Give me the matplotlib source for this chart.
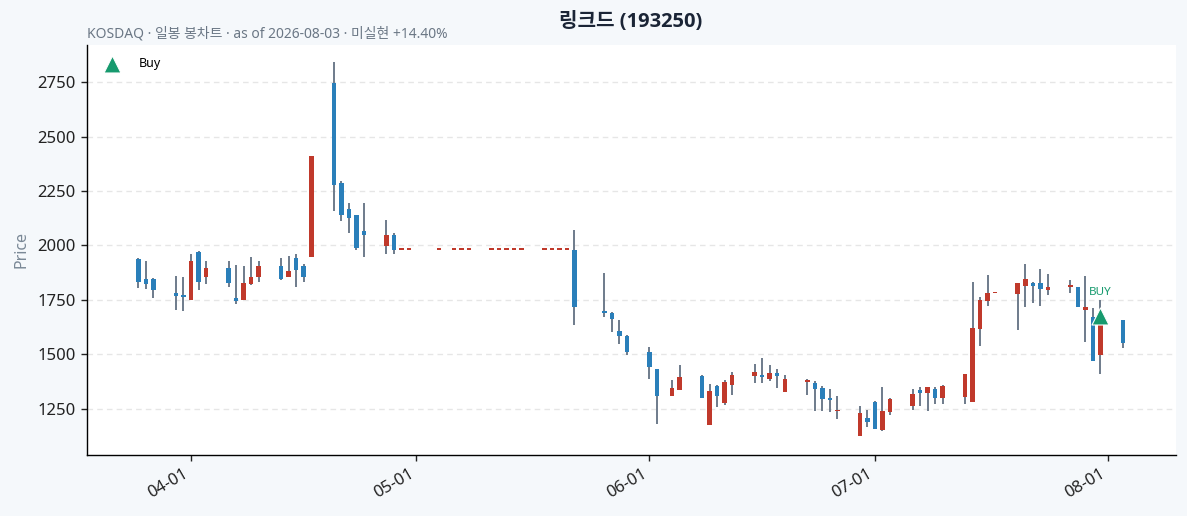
import matplotlib
matplotlib.use('Agg')
import matplotlib.pyplot as plt
import matplotlib.dates as mdates
import numpy as np
import pandas as pd

plt.rcParams['font.family'] = ['Noto Sans', 'Noto Sans CJK KR', 'DejaVu Sans']

# 일봉 데이터 (거래일 기준)
dates = [
    '2026-03-25', '2026-03-26', '2026-03-27', '2026-03-30', '2026-03-31',
    '2026-04-01', '2026-04-02', '2026-04-03', '2026-04-06', '2026-04-07',
    '2026-04-08', '2026-04-09', '2026-04-10', '2026-04-13', '2026-04-14',
    '2026-04-15', '2026-04-16', '2026-04-17', '2026-04-20', '2026-04-21',
    '2026-04-22', '2026-04-23', '2026-04-24', '2026-04-27', '2026-04-28',
    '2026-04-29', '2026-04-30', '2026-05-04', '2026-05-06', '2026-05-07',
    '2026-05-08', '2026-05-11', '2026-05-12', '2026-05-13', '2026-05-14',
    '2026-05-15', '2026-05-18', '2026-05-19', '2026-05-20', '2026-05-21',
    '2026-05-22', '2026-05-26', '2026-05-27', '2026-05-28', '2026-05-29',
    '2026-06-01', '2026-06-02', '2026-06-04', '2026-06-05', '2026-06-08',
    '2026-06-09', '2026-06-10', '2026-06-11', '2026-06-12', '2026-06-15',
    '2026-06-16', '2026-06-17', '2026-06-18', '2026-06-19', '2026-06-22',
    '2026-06-23', '2026-06-24', '2026-06-25', '2026-06-26', '2026-06-29',
    '2026-06-30', '2026-07-01', '2026-07-02', '2026-07-03', '2026-07-06',
    '2026-07-07', '2026-07-08', '2026-07-09', '2026-07-10', '2026-07-13',
    '2026-07-14', '2026-07-15', '2026-07-16', '2026-07-17', '2026-07-20',
    '2026-07-21', '2026-07-22', '2026-07-23', '2026-07-24', '2026-07-27',
    '2026-07-28', '2026-07-29', '2026-07-30', '2026-07-31', '2026-08-03',
]
opens = [
    1938, 1846, 1846, 1779, 1770, 1748, 1968, 1853, 1897, 1756,
    1748, 1823, 1855, 1906, 1853, 1940, 1906, 1946, 2745, 2287,
    2167, 2138, 2068, 1997, 2050, 1980, 1980, 1980, 1980, 1980,
    1980, 1980, 1980, 1980, 1980, 1980, 1980, 1980, 1980, 1980,
    1980, 1700, 1690, 1608, 1582, 1511, 1433, 1308, 1335, 1398,
    1175, 1352, 1276, 1358, 1400, 1403, 1384, 1412, 1326, 1374,
    1366, 1344, 1297, 1238, 1122, 1205, 1279, 1152, 1236, 1262,
    1334, 1323, 1339, 1299, 1303, 1281, 1615, 1744, 1779, 1778,
    1812, 1829, 1826, 1797, 1810, 1811, 1704, 1673, 1496, 1655,
]
highs = [
    1943, 1929, 1851, 1861, 1855, 1962, 1972, 1929, 1930, 1911,
    1906, 1946, 1930, 1940, 1949, 1962, 1915, 2412, 2842, 2296,
    2195, 2138, 2195, 2117, 2058, 1980, 1980, 1980, 1980, 1980,
    1980, 1980, 1980, 1980, 1980, 1980, 1980, 1980, 1980, 1980,
    2071, 1874, 1695, 1656, 1589, 1534, 1433, 1383, 1452, 1403,
    1365, 1357, 1383, 1416, 1453, 1484, 1449, 1433, 1406, 1388,
    1378, 1353, 1342, 1306, 1264, 1242, 1283, 1351, 1297, 1342,
    1351, 1351, 1351, 1357, 1407, 1833, 1765, 1866, 1779, 1825,
    1915, 1833, 1890, 1867, 1842, 1811, 1860, 1713, 1748, 1655,
]
lows = [
    1805, 1800, 1759, 1702, 1698, 1748, 1794, 1822, 1809, 1732,
    1748, 1819, 1831, 1840, 1853, 1809, 1831, 1946, 2158, 2114,
    2057, 1978, 1946, 1962, 1962, 1980, 1980, 1980, 1980, 1980,
    1980, 1980, 1980, 1980, 1980, 1980, 1980, 1980, 1980, 1980,
    1635, 1672, 1603, 1548, 1498, 1388, 1181, 1308, 1335, 1299,
    1175, 1255, 1268, 1314, 1369, 1369, 1377, 1346, 1326, 1311,
    1238, 1238, 1233, 1201, 1122, 1167, 1158, 1149, 1220, 1242,
    1262, 1237, 1271, 1273, 1269, 1281, 1539, 1721, 1779, 1609,
    1718, 1736, 1720, 1774, 1779, 1718, 1554, 1470, 1410, 1530,
]
closes = [
    1831, 1823, 1794, 1767, 1762, 1930, 1831, 1897, 1825, 1744,
    1826, 1857, 1906, 1846, 1883, 1886, 1855, 2412, 2277, 2138,
    2124, 1990, 2046, 2050, 1980, 1980, 1980, 1980, 1980, 1980,
    1980, 1980, 1980, 1980, 1980, 1980, 1980, 1980, 1980, 1980,
    1716, 1690, 1663, 1583, 1510, 1443, 1308, 1346, 1397, 1299,
    1329, 1310, 1371, 1403, 1416, 1395, 1412, 1400, 1384, 1374,
    1340, 1294, 1291, 1238, 1228, 1190, 1158, 1238, 1293, 1319,
    1322, 1348, 1299, 1354, 1407, 1619, 1747, 1781, 1779, 1825,
    1846, 1812, 1800, 1810, 1810, 1718, 1718, 1470, 1643, 1553,
]
buy_dates = ['2026-07-31']

UP = '#c0392b'
DOWN = '#2a7fba'
WICK = '#6e7b8b'
BUY = '#179a6e'

df = pd.DataFrame({'open': opens, 'high': highs, 'low': lows, 'close': closes},
                  index=pd.to_datetime(dates))
x = mdates.date2num(df.index.to_pydatetime())
up = df['close'] >= df['open']
colors = np.where(up, UP, DOWN)
body_bottom = np.minimum(df['open'], df['close'])
body_h = np.maximum((df['close'] - df['open']).abs(), 6)

fig = plt.figure(figsize=(11.87, 5.16), dpi=100, facecolor='#f5f8fb')
ax = fig.add_axes([0.0729, 0.1188, 0.9178, 0.794])
ax.set_facecolor('white')

ax.vlines(x, df['low'], df['high'], color=WICK, linewidth=1.4, zorder=2)
ax.bar(x, body_h, bottom=body_bottom, width=0.6, color=colors, linewidth=0, zorder=3)

# 매수 신호
bx = mdates.date2num(pd.to_datetime(buy_dates).to_pydatetime())
by = df.loc[pd.to_datetime(buy_dates), 'close'].values * 1.02
ax.scatter(bx, by, marker='^', s=150, color=BUY, edgecolor='white', linewidth=0.8,
           zorder=5, label='Buy')
for xx, yy in zip(bx, by):
    ax.annotate('BUY', (xx, yy), xytext=(0, 13), textcoords='offset points',
                ha='center', va='bottom', fontsize=8.4, color=BUY)

ax.set_xlim(x[0] - 6.9, x[-1] + 7.05)
ax.set_ylim(1038, 2921)
ax.xaxis.set_major_locator(mdates.MonthLocator())
ax.xaxis.set_major_formatter(mdates.DateFormatter('%m-%d'))
plt.setp(ax.get_xticklabels(), rotation=30, ha='right')
ax.tick_params(labelsize=12, colors='#222222', length=4.2, width=1.0)
ax.set_yticks([1250, 1500, 1750, 2000, 2250, 2500, 2750])

ax.grid(axis='y', linestyle=(0, (4, 3)), color='#e6e6e6', linewidth=1.0)
ax.set_axisbelow(True)
for s in ['top', 'right']:
    ax.spines[s].set_visible(False)
for s in ['left', 'bottom']:
    ax.spines[s].set_linewidth(1.0)

ax.set_ylabel('Price', fontsize=11.5, color='#7a8896', labelpad=6)
ax.set_title('KOSDAQ · 일봉 봉차트 · as of 2026-08-03 · 미실현 +14.40%',
             loc='left', fontsize=10, color='#6b7785', pad=5.5)
fig.text(0.5315, 0.958, '링크드 (193250)', ha='center', va='center',
         fontsize=14.5, fontweight='bold', color='#1b2536',
         family=['Open Sans', 'Noto Sans CJK KR', 'DejaVu Sans'])
ax.legend(loc='upper left', frameon=False, fontsize=9, borderaxespad=0.6,
          handletextpad=1.2)

fig.savefig('out.png', dpi=100, facecolor=fig.get_facecolor())
